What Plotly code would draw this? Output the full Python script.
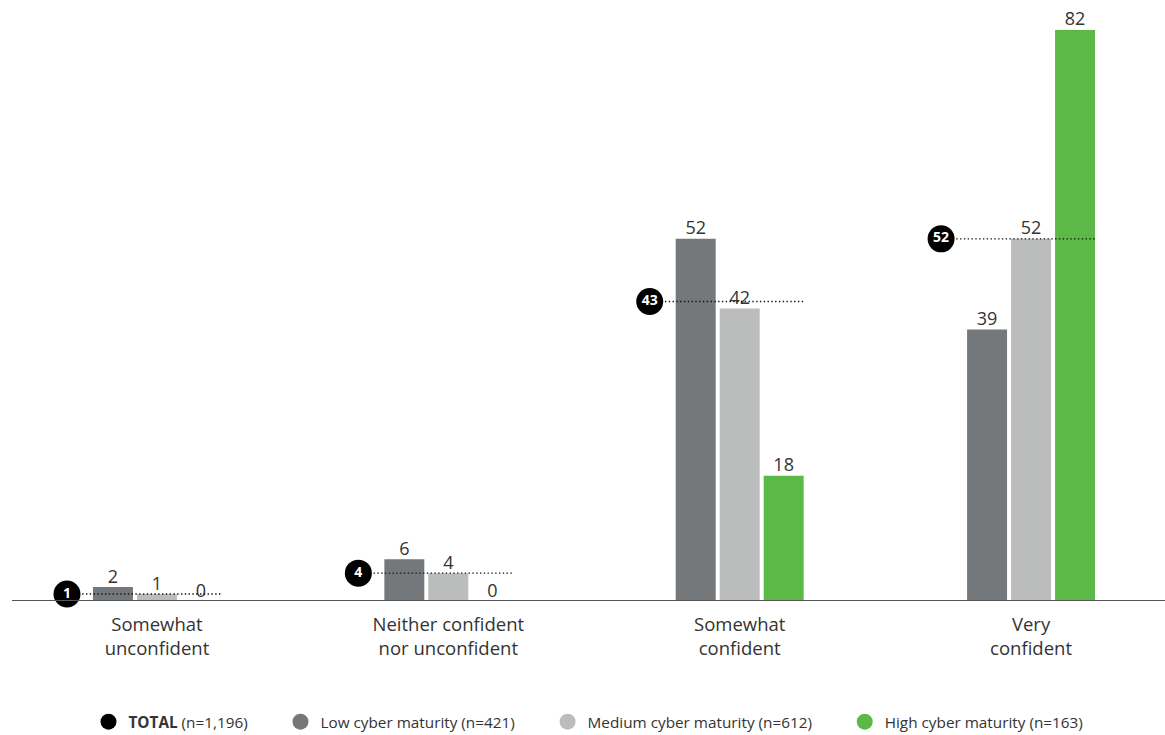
import plotly.graph_objects as go

categories = ["Somewhat<br>unconfident", "Neither confident<br>nor unconfident", "Somewhat<br>confident", "Very<br>confident"]
total = [1, 4, 43, 52]
low = [2, 6, 52, 39]
medium = [1, 4, 42, 52]
high = [0, 0, 18, 82]

series_names = ["Low cyber maturity (n=421)", "Medium cyber maturity (n=612)", "High cyber maturity (n=163)"]
total_name = "<b>TOTAL</b> (n=1,196)"
colors = ["#75787b", "#bbbcbc", "#5cb947"]

FONT = "Open Sans"
px_per_unit = 291.5
bw = 40 / px_per_unit
off = 44 / px_per_unit
xs = list(range(len(categories)))

fig = go.Figure()
for i, (vals, name, col) in enumerate(zip([low, medium, high], series_names, colors)):
    bx = [x + (i - 1) * off for x in xs]
    fig.add_trace(go.Bar(
        x=bx, y=vals, width=bw,
        marker=dict(color=col, line=dict(width=0)),
        showlegend=False, hoverinfo="skip",
    ))
    fig.add_trace(go.Scatter(
        x=bx, y=vals, mode="text", text=[str(v) for v in vals], textposition="top center",
        textfont=dict(family=FONT, size=18, color="#333333"),
        cliponaxis=False, showlegend=False, hoverinfo="skip",
    ))

# dotted total lines
lx, ly = [], []
for x, t in zip(xs, total):
    lx += [x - 90 / px_per_unit, x + 64 / px_per_unit, None]
    ly += [t, t, None]
fig.add_trace(go.Scatter(x=lx, y=ly, mode="lines", line=dict(color="#111111", width=1.4, dash="1.4px,2.4px"),
                         showlegend=False, hoverinfo="skip", cliponaxis=False))
fig.add_trace(go.Scatter(
    x=[x - 90 / px_per_unit for x in xs], y=total, mode="markers+text",
    marker=dict(size=27, color="black", line=dict(width=0)),
    text=[f"<b>{t}</b>" for t in total], textposition="middle center",
    textfont=dict(family=FONT, size=14, color="white"),
    showlegend=False, hoverinfo="skip", cliponaxis=False))

# legend entries
pad = "\u00a0" * 7
legend_names = [total_name + pad] + [n + pad for n in series_names[:-1]] + [series_names[-1]]
for name, col in zip(legend_names, ["black"] + colors):
    fig.add_trace(go.Scatter(x=[None], y=[None], mode="markers", name=name,
                             marker=dict(size=20, color=col, symbol="circle")))

fig.update_layout(
    width=1165, height=735,
    margin=dict(l=12, r=0, t=9, b=134, autoexpand=False),
    plot_bgcolor="white", paper_bgcolor="white",
    barmode="overlay",
    font=dict(family=FONT, color="#333333"),
    xaxis=dict(range=[-145 / px_per_unit, 3 + 134 / px_per_unit], tickvals=xs, ticktext=categories,
               showgrid=False, zeroline=False, showline=False, ticks="", ticklabelstandoff=10,
               tickfont=dict(family=FONT, size=18.5, color="#333333")),
    yaxis=dict(range=[0, 85], visible=False, showgrid=False, zeroline=False),
    legend=dict(orientation="h", x=0.5, xanchor="center", y=-0.204, yanchor="middle",
                font=dict(family=FONT, size=15.3, color="#333333"), itemsizing="trace",
                tracegroupgap=0),
    shapes=[dict(type="line", xref="paper", yref="y", x0=0, x1=1, y0=0, y1=0,
                 line=dict(color="#555555", width=2))],
)
fig.write_html("out.html", config={"displayModeBar": False},
               post_script="document.body.style.margin='0';document.body.style.overflow='hidden';")
